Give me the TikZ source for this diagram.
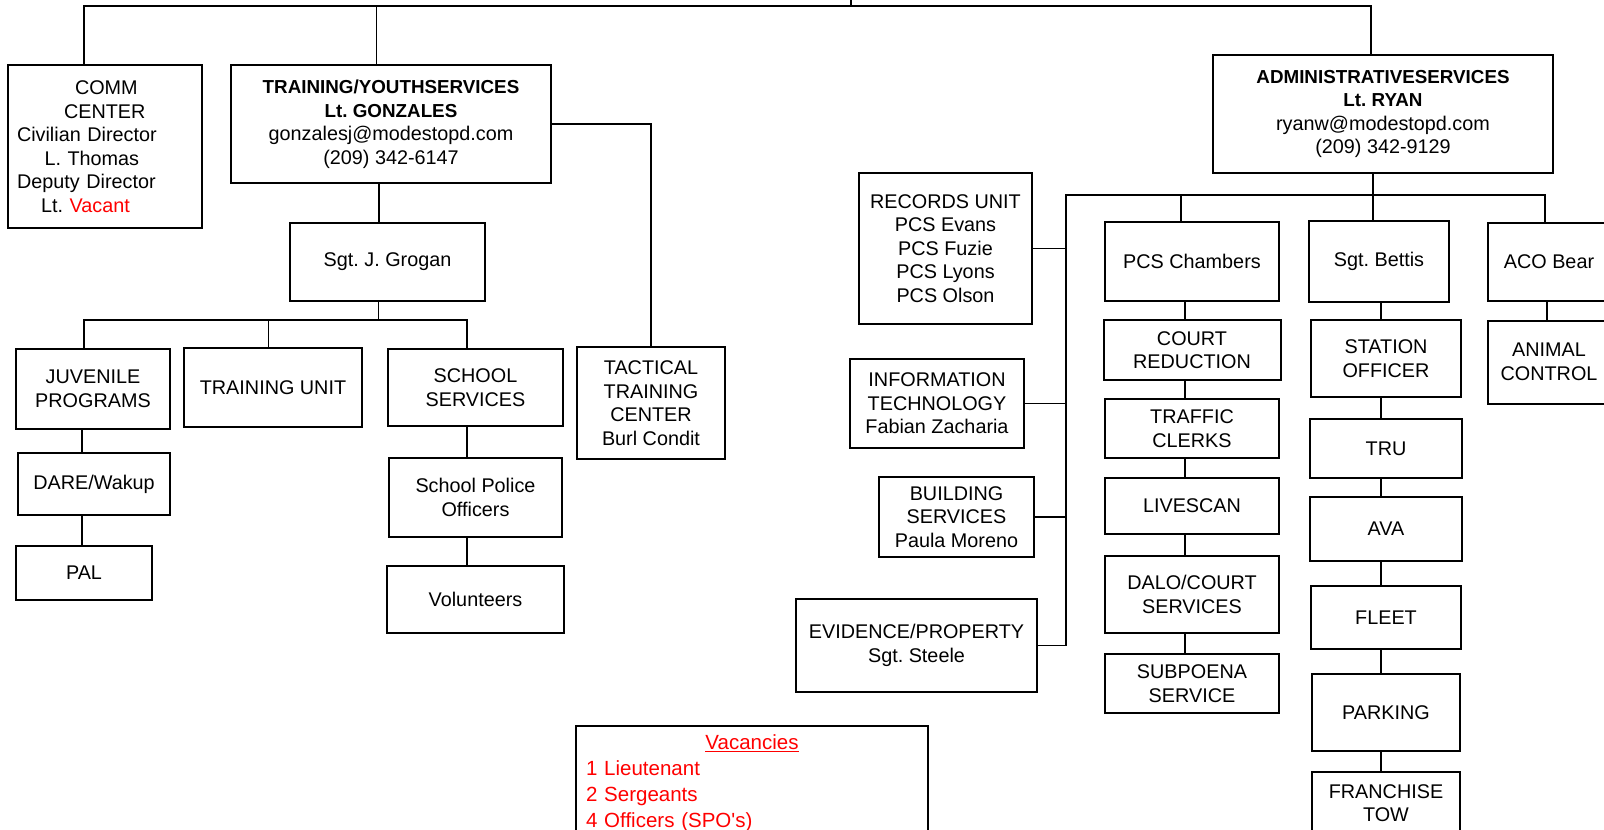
\documentclass[tikz,border=0pt]{standalone}
\usepackage{fontspec}
\setmainfont{Liberation Sans}
\usepackage{xcolor}
\usepackage{tikz}
\usetikzlibrary{positioning}
\definecolor{vacred}{RGB}{255,0,0}
\newcommand{\hdr}[1]{{\fontsize{18.8}{23.5}\selectfont\bfseries #1}}
\frenchspacing

\begin{document}
\begin{tikzpicture}[
  x=1pt, y=-1pt, font=\fontsize{19.8}{23.5}\selectfont,
  unitbox/.style n args={2}{draw,line width=2pt,minimum width=#1pt,minimum height=#2pt,inner sep=1pt,align=center},
  link/.style={line width=1.1pt}]
\useasboundingbox (0,0) rectangle (1604,830);
\clip (0,0) rectangle (1604,830);
% left side: comm center and training/youth services
\node[unitbox={194}{163},text width=176pt,align=left,inner xsep=9pt] (comm) at (105,146.5)
  {\hspace*{58pt}COMM\\\hspace*{47pt}CENTER\\Civilian Director\\\hspace*{27.5pt}L. Thomas\\Deputy Director\\\hspace*{24pt}Lt. \textcolor{vacred}{Vacant}};
\node[unitbox={320}{118}] (training) at (391,124)
  {\hdr{TRAINING/YOUTHSERVICES}\\\hdr{Lt.\ GONZALES}\\gonzalesj@modestopd.com\\(209) 342-6147};
\node[unitbox={195}{78}] (grogan) at (387.5,262) {Sgt. J. Grogan};
\node[unitbox={154.5}{80}] (juv) at (93,389) {JUVENILE\\PROGRAMS};
\node[unitbox={178}{79}] (tunit) at (273,387.5) {TRAINING UNIT};
\node[unitbox={175}{77}] (school) at (475.5,387.5) {SCHOOL\\SERVICES};
\node[unitbox={148}{112}] (tactical) at (651,403) {TACTICAL\\TRAINING\\CENTER\\Burl Condit};
\node[unitbox={152.5}{62}] (dare) at (94,484) {DARE/Wakup};
\node[unitbox={136.5}{54}] (pal) at (84,573) {PAL};
\node[unitbox={173}{79},below=30pt of school] (spo) {School Police\\Officers};
\node[unitbox={176.5}{67},below=27pt of spo] (vol) {Volunteers};
% right side: administrative services
\node[unitbox={339.5}{118}] (admin) at (1383,114)
  {\hdr{ADMINISTRATIVESERVICES}\\\hdr{Lt. RYAN}\\ryanw@modestopd.com\\(209) 342-9129};
\node[unitbox={173}{151}] (records) at (945.5,248.5) {RECORDS UNIT\\PCS Evans\\PCS Fuzie\\PCS Lyons\\PCS Olson};
\node[unitbox={174}{89}] (infotech) at (937,403.5) {INFORMATION\\TECHNOLOGY\\Fabian Zacharia};
\node[unitbox={155}{80}] (building) at (956.5,517) {BUILDING\\SERVICES\\Paula Moreno};
\node[unitbox={241}{93}] (evidence) at (916.5,645.5) {EVIDENCE/PROPERTY\\Sgt. Steele};
\node[unitbox={174}{79}] (chambers) at (1192,261.5) {PCS Chambers};
\node[unitbox={177}{60},below=17pt of chambers] (court) {COURT\\REDUCTION};
\node[unitbox={174}{59},below=17pt of court] (traffic) {TRAFFIC\\CLERKS};
\node[unitbox={174}{56},below=18pt of traffic] (livescan) {LIVESCAN};
\node[unitbox={174}{77},below=20pt of livescan] (dalo) {DALO/COURT\\SERVICES};
\node[unitbox={174}{59},below=19pt of dalo] (subpoena) {SUBPOENA\\SERVICE};
\node[unitbox={140}{81}] (bettis) at (1379,261.5) {Sgt. Bettis};
\node[unitbox={150}{77}] (station) at (1386,358.5) {STATION\\OFFICER};
\node[unitbox={152}{59},below=20pt of station] (tru) {TRU};
\node[unitbox={152}{64},below=17pt of tru] (ava) {AVA};
\node[unitbox={150}{63},below=23pt of ava] (fleet) {FLEET};
\node[unitbox={148}{77},below=23pt of fleet] (parking) {PARKING};
\node[unitbox={148}{62},below=19pt of parking] (franchise) {FRANCHISE\\TOW};
\node[unitbox={122}{78}] (aco) at (1549,262) {ACO Bear};
\node[unitbox={122}{83}] (animal) at (1549,362) {ANIMAL\\CONTROL};
% vacancies note
\node[draw,line width=2pt,anchor=north west,text width=332pt,inner xsep=10pt,inner ysep=9pt,align=left,
  text=vacred,font=\fontsize{20.5}{26}\selectfont] (vacancies) at (575,725)
  {\makebox[332pt]{\underline{Vacancies}}\\1 Lieutenant\\2 Sergeants\\4 Officers (SPO\textquotesingle s)};
% connectors from the top
\coordinate (chief) at (851,-5);
\coordinate (topbus) at (851,6);
\draw[link,line width=2pt] (chief) -- (topbus);
\draw[link] ([xshift=-21pt]comm.north) |- ([xshift=-12pt]admin.north |- topbus) -- ([xshift=-12pt]admin.north);
\draw[link] ([xshift=-14.5pt]training.north) -- ([xshift=-14.5pt]training.north |- topbus);
% training/youth services tree
\coordinate (colG) at (379,0);
\coordinate (tyBus) at (378.5,320);
\coordinate (colJ) at (82,0);
\coordinate (colS) at (467,0);
\draw[link] (training.east) -| (tactical.north);
\draw[link] (training.south -| colG) -- (grogan.north -| colG);
\draw[link] (grogan.south -| tyBus) -- (tyBus);
\draw[link] ([xshift=-9pt]juv.north) |- ([xshift=-8.5pt]school.north |- tyBus) -- ([xshift=-8.5pt]school.north);
\draw[link] ([xshift=-4.5pt]tunit.north) -- ([xshift=-4.5pt]tunit.north |- tyBus);
\foreach \a/\b in {juv/dare,dare/pal} \draw[link] (\a.south -| colJ) -- (\b.north -| colJ);
\foreach \a/\b in {school/spo,spo/vol} \draw[link] (\a.south -| colS) -- (\b.north -| colS);
% administrative services tree
\coordinate (adBus) at (1373,195);
\coordinate (spine) at (1066,195);
\coordinate (colC) at (1185,0);
\coordinate (colB) at (1381,0);
\coordinate (colA) at (1547,0);
\draw[link] (admin.south -| adBus) -- (adBus);
\draw[link] (evidence.east) -| (spine) -| ([xshift=-4pt]aco.north);
\foreach \u in {records,infotech,building} \draw[link] (\u.east) -- (\u.east -| spine);
\draw[link] ([xshift=-11pt]chambers.north) -- ([xshift=-11pt]chambers.north |- spine);
\draw[link] ([xshift=-6pt]bettis.north) -- ([xshift=-6pt]bettis.north |- spine);
\foreach \a/\b in {chambers/court,court/traffic,traffic/livescan,livescan/dalo,dalo/subpoena}
  \draw[link] (\a.south -| colC) -- (\b.north -| colC);
\foreach \a/\b in {bettis/station,station/tru,tru/ava,ava/fleet,fleet/parking,parking/franchise}
  \draw[link] (\a.south -| colB) -- (\b.north -| colB);
\draw[link] (aco.south -| colA) -- (animal.north -| colA);
\end{tikzpicture}
\end{document}
